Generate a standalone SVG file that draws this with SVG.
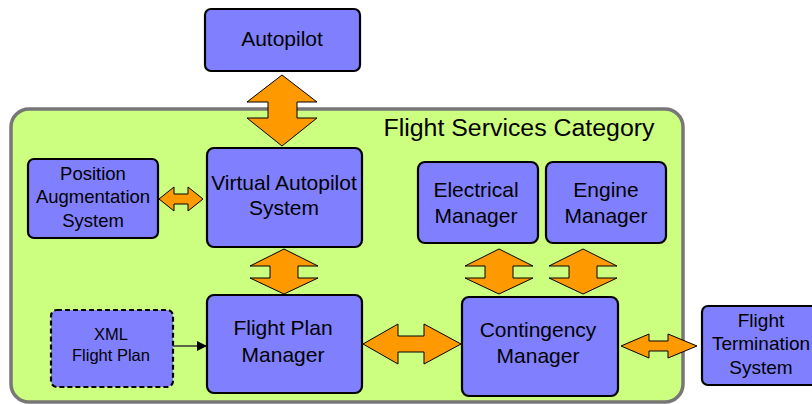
<svg xmlns="http://www.w3.org/2000/svg" width="812" height="404" viewBox="0 0 812 404">
<style>
.box{fill:#8080ff;stroke:#000;stroke-width:2.2}
.dash{fill:#8080ff;stroke:#000;stroke-width:2.2;stroke-dasharray:5,3}
.cont{fill:#ccff80;stroke:#777;stroke-width:3.5}
.big{fill:#ff9900;stroke:#000;stroke-width:1}
text{font-family:"Liberation Sans",Arial,sans-serif;fill:#000;text-anchor:middle}
.t21{font-size:21px}
.t18{font-size:19px}
.t17{font-size:18.5px}
.t16{font-size:16.5px}
</style>
<defs>
<marker id="ah" markerWidth="10" markerHeight="10" refX="9" refY="5" orient="auto" markerUnits="userSpaceOnUse">
<path d="M0,0 L10,5 L0,10 z" fill="#000"/>
</marker>
</defs>
<g id="container">
<rect class="cont" x="11" y="109" width="672" height="293" rx="18"/>
<text x="519" y="136" style="font-size:23px" textLength="271" lengthAdjust="spacingAndGlyphs">Flight Services Category</text>
</g>
<g id="autopilot">
<rect class="box" x="205" y="9" width="155" height="62" rx="6"/>
<text class="t21" x="282" y="46">Autopilot</text>
</g>
<g id="pos-aug">
<rect class="box" x="28" y="159" width="130" height="79" rx="6"/>
<text class="t17" x="93" y="180">Position</text>
<text class="t17" x="93" y="203">Augmentation</text>
<text class="t17" x="93" y="227">System</text>
</g>
<g id="virtual-autopilot">
<rect class="box" x="207" y="148" width="155" height="99" rx="7"/>
<text class="t21" x="284" y="190">Virtual Autopilot</text>
<text class="t21" x="284" y="215">System</text>
</g>
<g id="electrical">
<rect class="box" x="418" y="162" width="120" height="81" rx="7"/>
<text class="t21" x="476" y="197">Electrical</text>
<text class="t21" x="476" y="223">Manager</text>
</g>
<g id="engine">
<rect class="box" x="546" y="162" width="120" height="81" rx="7"/>
<text class="t21" x="606" y="197">Engine</text>
<text class="t21" x="606" y="223">Manager</text>
</g>
<g id="xml-flight-plan">
<rect class="dash" x="51" y="310" width="122" height="77" rx="6"/>
<text class="t16" x="111" y="340">XML</text>
<text class="t16" x="111" y="361">Flight Plan</text>
</g>
<g id="flight-plan-manager">
<rect class="box" x="207" y="295" width="155" height="98" rx="7"/>
<text class="t21" x="283" y="335">Flight Plan</text>
<text class="t21" x="283" y="362">Manager</text>
</g>
<g id="contingency">
<rect class="box" x="462" y="297" width="156" height="99" rx="7"/>
<text class="t21" x="538" y="337">Contingency</text>
<text class="t21" x="538" y="363">Manager</text>
</g>
<g id="flight-termination">
<rect class="box" x="702" y="306" width="118" height="79" rx="6"/>
<text class="t18" x="761" y="327">Flight</text>
<text class="t18" x="761" y="350">Termination</text>
<text class="t18" x="761" y="374">System</text>
</g>
<g id="connectors">
<polygon class="big" points="282,75 317,102 297,102 297,118 317,118 282,146 247,118 268,118 268,102 247,102"/>
<polygon class="big" points="159,199 174,187 174,194 188,194 188,187 203,199 188,211 188,204 174,204 174,211"/>
<polygon class="big" points="284,249 318,266 298,266 298,278 318,278 284,294 250,278 270,278 270,266 250,266"/>
<polygon class="big" points="499,249 533,266 513,266 513,278 533,278 499,294 465,278 485,278 485,266 465,266"/>
<polygon class="big" points="583,249 617,266 597,266 597,278 617,278 583,294 549,278 569,278 569,266 549,266"/>
<polygon class="big" points="363,344 398,324 398,336 424,336 424,324 461,344 424,364 424,352 398,352 398,364"/>
<polygon class="big" points="621,346 649,334 649,341 668,341 668,334 697,346 668,358 668,351 649,351 649,358"/>
<line x1="173" y1="346" x2="206" y2="346" stroke="#333" stroke-width="1.6" marker-end="url(#ah)"/>
</g>
</svg>
